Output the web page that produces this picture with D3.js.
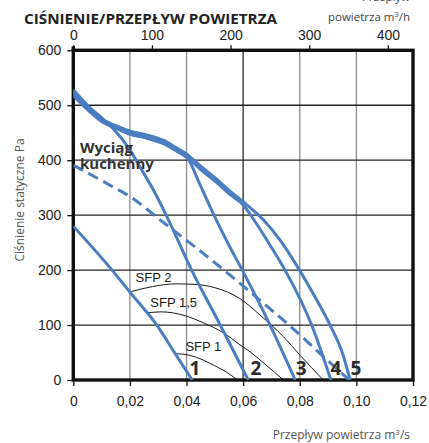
<!DOCTYPE html>
<html>
<head>
<meta charset="utf-8">
<script src="https://cdn.jsdelivr.net/npm/d3@7"></script>
<style>
  html, body { margin: 0; padding: 0; background: #fff; }
  svg { display: block; }
</style>
</head>
<body>
<svg id="chart" width="429" height="443"></svg>
<script>
// ---------- data ----------
const xTicks = [0, 0.02, 0.04, 0.06, 0.08, 0.10, 0.12];
const xTickLabels = ["0", "0,02", "0,04", "0,06", "0,08", "0,10", "0,12"];
const yTicks = [0, 100, 200, 300, 400, 500, 600];
const topTicks = [0, 100, 200, 300, 400];

const curve1X = [0, 0.0137, 0.02, 0.0295, 0.036, 0.0420];
const curve1Y = [280, 200, 160, 100, 48, 0];

const curve2X = [0, 0.005, 0.0107, 0.0142, 0.0201, 0.0242, 0.0284, 0.0331, 0.0418, 0.0519, 0.0618];
const curve2Y = [528, 500, 474, 457, 418, 382, 345, 297, 200, 100, 0];

const curve3X = [0, 0.005, 0.0107, 0.016, 0.0201, 0.026, 0.0319, 0.036, 0.0401, 0.0448, 0.0497, 0.0547, 0.0597, 0.0695, 0.0784];
const curve3Y = [522, 494, 470, 458, 449, 441, 431, 419, 406, 355, 300, 248, 200, 100, 0];

const curve4X = [0, 0.005, 0.0107, 0.016, 0.0201, 0.026, 0.0319, 0.036, 0.0401, 0.045, 0.0507, 0.055, 0.0601, 0.0636, 0.0692, 0.0748, 0.0842, 0.0910];
const curve4Y = [518, 492, 468, 456, 447, 440, 430, 418, 405, 383, 359, 339, 318, 293, 248, 200, 100, 0];

const curve5X = [0, 0.005, 0.0107, 0.016, 0.0201, 0.026, 0.0319, 0.036, 0.0401, 0.045, 0.0507, 0.055, 0.0601, 0.0672, 0.0731, 0.0799, 0.0855, 0.0907, 0.0950, 0.0978];
const curve5Y = [525, 498, 473, 461, 453, 446, 436, 424, 411, 389, 365, 345, 324, 291, 254, 200, 150, 100, 50, 0];

const dashedX = [0, 0.0142, 0.02, 0.031, 0.046, 0.0589, 0.066, 0.0801, 0.0872, 0.0975];
const dashedY = [391, 351, 334, 290, 230, 176, 145, 82, 48, 0];

const sfp2X = [0.0205, 0.028, 0.036, 0.043, 0.05, 0.0589, 0.066, 0.0742, 0.0801, 0.0883];
const sfp2Y = [161, 170, 175, 174, 168, 148, 118, 79, 45, 0];

const sfp15X = [0.026, 0.031, 0.0354, 0.0395, 0.046, 0.053, 0.0589, 0.0625, 0.0684, 0.0742];
const sfp15Y = [122, 124, 122, 117, 104, 86, 64, 51, 26, 0];

const sfp1X = [0.036, 0.041, 0.046, 0.0484, 0.0542, 0.058];
const sfp1Y = [48, 45, 36, 30, 14, 0];

const curveNames = ["1", "2", "3", "4", "5"];
const curveLabelX = [0.0430, 0.0645, 0.0805, 0.0928, 0.0998];
const sfpNames = ["SFP 2", "SFP 1,5", "SFP 1"];
const sfpLabelX = [0.0220, 0.0272, 0.0396];
const sfpLabelY = [178, 133, 52];

// ---------- layout ----------
const svg = d3.select("#chart");
const L = 73.3, R = 413, T = 50.3, B = 380;
const x = d3.scaleLinear().domain([0, 0.12]).range([L, R]);
const y = d3.scaleLinear().domain([0, 600]).range([B, T]);
const xTop = d3.scaleLinear().domain([0, 0.12 * 3600]).range([L, R]);
const blue = "#4b7ec0";
const tickFont = "'Liberation Sans', Arial, sans-serif";
const labFont = "'Open Sans', 'Noto Sans', sans-serif";

svg.append("defs").append("clipPath").attr("id", "plotclip")
  .append("rect").attr("x", L).attr("y", T).attr("width", R - L).attr("height", B - T);

// vertical grid
const gridV = [0.02, 0.04, 0.06, 0.08, 0.10];
svg.append("g").selectAll("line").data(gridV).join("line")
  .attr("x1", d => x(d)).attr("x2", d => x(d))
  .attr("y1", T).attr("y2", B)
  .attr("stroke", d => Math.abs(d - 0.06) < 1e-9 ? "#2a2a2a" : "#8c8c8c")
  .attr("stroke-width", 1.3);

// horizontal grid
svg.append("g").selectAll("line").data([100, 200, 300, 400, 500]).join("line")
  .attr("x1", L).attr("x2", R)
  .attr("y1", d => y(d)).attr("y2", d => y(d))
  .attr("stroke", "#222").attr("stroke-width", 1.3);

// axes with d3
const gLeft = svg.append("g").attr("transform", `translate(${L},0)`)
  .call(d3.axisLeft(y).tickValues(yTicks).tickSize(6).tickPadding(6));
gLeft.select(".domain").remove();
gLeft.selectAll(".tick line").attr("stroke", "#111").attr("stroke-width", 1.3);
gLeft.selectAll(".tick text").attr("font-family", tickFont).attr("font-size", 14).attr("fill", "#222")
  .attr("x", -12);

const gBottom = svg.append("g").attr("transform", `translate(0,${B})`)
  .call(d3.axisBottom(x).tickValues(xTicks).tickFormat((d, i) => xTickLabels[i]).tickSize(6).tickPadding(10));
gBottom.select(".domain").remove();
gBottom.selectAll(".tick line").attr("stroke", "#111").attr("stroke-width", 1.3);
gBottom.selectAll(".tick text").attr("font-family", tickFont).attr("font-size", 14).attr("fill", "#222");

const gTop = svg.append("g").attr("transform", `translate(0,${T})`)
  .call(d3.axisTop(xTop).tickValues(topTicks).tickSize(5).tickPadding(5));
gTop.select(".domain").remove();
gTop.selectAll(".tick line").attr("stroke", "#111").attr("stroke-width", 1.3);
gTop.selectAll(".tick text").attr("font-family", tickFont).attr("font-size", 14).attr("fill", "#222");

// frame (thick)
svg.append("rect").attr("x", L).attr("y", T).attr("width", R - L).attr("height", B - T)
  .attr("fill", "none").attr("stroke", "#111").attr("stroke-width", 3.4);
svg.append("line").attr("x1", L).attr("x2", L).attr("y1", T - 4).attr("y2", T)
  .attr("stroke", "#111").attr("stroke-width", 3.4);

// curves
const zip = (xs, ys) => xs.map((v, i) => [v, ys[i]]);
const line = d3.line().x(d => x(d[0])).y(d => y(d[1])).curve(d3.curveMonotoneX);
const gc = svg.append("g").attr("clip-path", "url(#plotclip)");

// SFP thin curves
[[sfp2X, sfp2Y], [sfp15X, sfp15Y], [sfp1X, sfp1Y]].forEach(([xs, ys]) => {
  gc.append("path").attr("d", line(zip(xs, ys)))
    .attr("fill", "none").attr("stroke", "#1a1a1a").attr("stroke-width", 1);
});

const fanCurves = [[curve1X, curve1Y], [curve2X, curve2Y], [curve3X, curve3Y], [curve4X, curve4Y], [curve5X, curve5Y]];
fanCurves.forEach(([xs, ys]) => {
  gc.append("path").attr("d", line(zip(xs, ys)))
    .attr("fill", "none").attr("stroke", blue).attr("stroke-width", 3)
    .attr("stroke-linejoin", "round");
});
gc.append("path").attr("d", line(zip(dashedX, dashedY)))
  .attr("fill", "none").attr("stroke", blue).attr("stroke-width", 3)
  .attr("stroke-dasharray", "11,6");

// SFP labels
svg.append("g").selectAll("text").data(sfpNames).join("text")
  .attr("x", (d, i) => x(sfpLabelX[i])).attr("y", (d, i) => y(sfpLabelY[i]))
  .attr("font-family", tickFont).attr("font-size", 13).attr("fill", "#1a1a1a")
  .text(d => d);

// curve number labels
svg.append("g").selectAll("text").data(curveNames).join("text")
  .attr("x", (d, i) => x(curveLabelX[i])).attr("y", y(9))
  .attr("text-anchor", "middle")
  .attr("font-family", labFont).attr("font-weight", 700).attr("font-size", 19).attr("fill", "#2a2a2a")
  .text(d => d);

// Wyciąg kuchenny
const wk = svg.append("text").attr("font-family", labFont).attr("font-weight", 700)
  .attr("font-size", 15).attr("fill", "#333");
wk.append("tspan").attr("x", 80).attr("y", 153).text("Wyciąg");
wk.append("tspan").attr("x", 80).attr("y", 169).text("kuchenny");

// title
svg.append("text").attr("x", 24).attr("y", 24)
  .attr("font-family", labFont).attr("font-weight", 700).attr("font-size", 15)
  .attr("fill", "#222").attr("textLength", 253).attr("lengthAdjust", "spacingAndGlyphs")
  .text("CIŚNIENIE/PRZEPŁYW POWIETRZA");

// top-right unit labels
svg.append("text").attr("x", 410).attr("y", 0.5).attr("text-anchor", "end")
  .attr("font-family", labFont).attr("font-size", 11.5).attr("fill", "#444")
  .text("Przepływ");
const tu = svg.append("text").attr("x", 410).attr("y", 20.5).attr("text-anchor", "end")
  .attr("font-family", labFont).attr("font-size", 11.5).attr("fill", "#444");
tu.append("tspan").text("powietrza m");
tu.append("tspan").attr("dy", -4).attr("font-size", 7.5).text("3");
tu.append("tspan").attr("dy", 4).text("/h");

// axis titles
svg.append("text").attr("transform", "translate(20,200) rotate(-90)")
  .attr("text-anchor", "middle").attr("dy", "0.35em")
  .attr("font-family", labFont).attr("font-size", 12).attr("fill", "#555")
  .text("Ciśnienie statyczne Pa");

const bt = svg.append("text").attr("x", 410).attr("y", 439).attr("text-anchor", "end")
  .attr("font-family", labFont).attr("font-size", 12).attr("fill", "#555");
bt.append("tspan").text("Przepływ powietrza m");
bt.append("tspan").attr("dy", -4).attr("font-size", 8).text("3");
bt.append("tspan").attr("dy", 4).text("/s");
</script>
</body>
</html>
